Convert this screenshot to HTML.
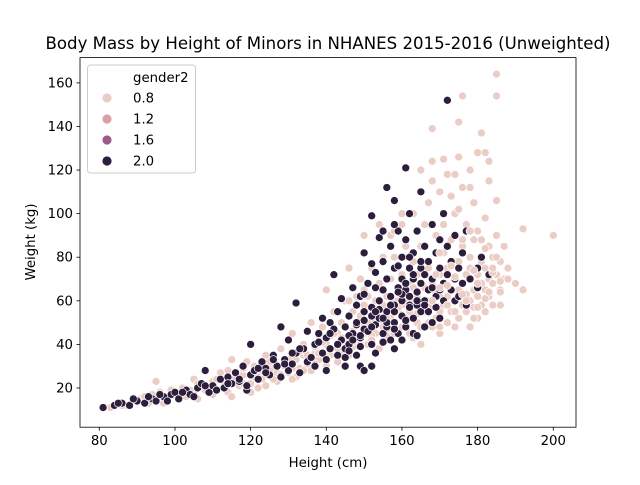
<!DOCTYPE html>
<html><head><meta charset="utf-8"><style>
body{margin:0;background:#fff;}
svg{font-family:"DejaVu Sans","Liberation Sans",sans-serif;}
</style></head><body>
<svg id="chart" width="640" height="480" viewBox="0 0 640 480">
<rect width="640" height="480" fill="#fff"/>
<text x="328" y="49" text-anchor="middle" font-size="16.6" fill="#000">Body Mass by Height of Minors in NHANES 2015-2016 (Unweighted)</text>
<g id="points"></g>
<g id="axes"></g>
<rect x="80" y="57.6" width="496" height="369.6" fill="none" stroke="#000" stroke-width="0.8"/>
<text x="328" y="467" text-anchor="middle" font-size="13.3">Height (cm)</text>
<text transform="translate(35,242) rotate(-90)" text-anchor="middle" font-size="13.3">Weight (kg)</text>
<g>
<rect x="87.5" y="65" width="108" height="108" rx="3" fill="#fff" fill-opacity="0.8" stroke="#ccc" stroke-width="1"/>
<text x="133" y="82" font-size="13.3">gender2</text>
<g id="legend-entries"></g>
</g>
</svg>
<script>
const xTicks=[80,100,120,140,160,180,200];
const yTicks=[20,40,60,80,100,120,140,160];
const legendLabels=["0.8","1.2","1.6","2.0"];
const legendColors=["#ebcdc6","#d9a0a8","#9b5b8c","#2d1e3e"];
const femaleH=[83,85,87,89,91,93,94,95,96,98,99,100,102,103,105,105,107,108,110,111,112,113,114,115,116,117,118,119,120,121,122,123,124,125,126,127,128,129,130,131,132,133,134,135,136,137,138,139,140,140,141,142,143,143,144,145,145,146,146,147,147,148,148,149,149,150,150,150,151,151,152,152,153,153,154,154,154,155,155,155,156,156,157,157,157,158,158,158,159,159,160,160,160,160,161,161,161,162,162,162,163,163,163,164,164,164,165,165,165,165,166,166,166,167,167,167,167,168,168,168,168,168,169,169,169,170,170,170,170,170,171,171,171,171,172,172,172,172,173,173,173,173,174,174,174,174,175,175,175,175,176,176,176,176,176,177,177,177,177,178,178,178,178,178,179,179,179,179,180,180,180,180,180,181,181,181,181,182,182,182,182,182,183,183,183,183,184,184,184,185,185,185,185,185,186,186,186,187,187,188,190,192,192,200,175,171,168,174,178,183,160,158,150,146,142,138,134,130,126,122,118,114,110,106,97,165,170,163,120,115,
 86,90,92,96,101,104,106,109,111,113,116,118,121,123,125,127,129,131,133,135,137,139,141,143,145,147,149,151,153,155,157,159,161,163,135,138,141,144,147,150,153,156,159,162,132,136,140,144,148,152,156,124,128,131,134,137,140,143,146,149,152,155,158,161,164,166];
const femaleW=[11,13,12,14,15,13,17,23,16,15,19,17,20,16,18,24,21,19,23,19,27,22,18,33,24,21,26,32,22,30,27,24,35,30,28,23,38,30,27,45,33,29,40,30,50,36,33,48,40,65,35,55,45,32,50,60,42,37,75,55,44,62,40,50,70,45,58,90,40,62,52,75,45,60,38,68,95,50,58,80,44,62,52,70,90,46,60,80,55,65,48,58,72,95,52,62,85,45,68,55,58,78,100,50,62,72,48,58,85,120,55,66,95,50,60,75,105,48,58,68,124,139,52,64,90,55,62,72,110,45,58,68,82,95,50,62,75,118,55,65,88,108,48,60,70,100,52,65,78,126,58,68,85,154,112,55,63,72,95,60,70,80,120,48,57,65,88,105,62,72,92,128,52,58,68,78,137,65,75,98,128,55,62,70,85,115,58,80,68,72,90,106,154,164,65,78,58,70,85,75,68,93,65,90,142,125,115,118,112,124,100,92,65,60,45,42,35,33,24,20,22,28,17,15,13,40,48,43,18,16,
 12,14,16,18,16,19,22,20,24,21,25,29,25,28,32,27,33,29,37,35,39,41,44,40,48,46,53,50,55,58,56,60,64,66,31,36,38,43,39,47,49,52,57,60,25,28,30,36,41,44,47,21,26,24,28,31,34,38,35,40,42,48,45,50,54,58];
const maleH=[81,84,86,88,90,92,94,95,97,99,100,101,103,104,106,107,108,109,110,112,113,114,115,116,117,118,119,120,120,121,122,123,124,125,126,127,128,128,129,130,130,131,132,132,133,134,135,135,136,137,137,138,139,139,140,140,141,141,142,142,143,143,144,144,145,145,146,146,147,147,148,148,148,149,149,149,150,150,150,151,151,152,152,152,153,153,153,154,154,154,155,155,155,156,156,156,156,157,157,157,158,158,158,158,159,159,159,160,160,160,160,161,161,161,161,162,162,162,162,163,163,163,163,164,164,164,165,165,165,165,166,166,166,166,167,167,167,168,168,168,168,169,169,169,170,170,170,170,171,171,171,172,172,172,172,173,173,174,174,174,175,175,176,176,177,177,178,180,180,181,183,160,158,164,150,152,145,140,
 85,89,93,96,98,102,105,108,111,114,117,119,122,124,126,129,131,133,136,138,141,143,146,148,150,152,154,156,158,160,162,164,166,168,145,147,149,151,153,155,157,159,161,163,143,146,149,152,155,158,161,150,153,156,159,162,165,152,155,158];
const maleW=[11,12,13,12,14,13,15,14,16,17,18,15,19,17,20,22,28,18,21,24,20,25,22,27,23,30,19,26,40,28,24,32,29,26,35,30,25,48,33,28,42,31,36,59,27,38,32,46,34,40,30,45,36,52,33,43,50,38,47,72,35,55,42,61,38,48,53,40,66,45,35,58,49,43,62,30,51,55,82,46,68,40,57,99,49,73,36,60,52,89,45,65,78,55,48,70,112,62,42,85,58,75,50,106,66,45,92,60,80,53,70,48,65,121,88,58,75,62,100,52,70,82,45,64,58,92,55,75,68,110,60,48,85,72,65,55,78,70,60,95,50,62,82,57,75,65,88,52,68,60,100,72,152,58,85,65,78,70,90,60,75,62,82,68,58,92,70,75,66,80,72,42,38,44,28,30,30,28,
 13,15,16,17,14,18,16,21,19,22,24,21,29,27,33,31,36,38,34,41,45,40,44,50,47,53,56,50,55,63,57,60,58,66,34,42,39,46,55,52,58,64,68,72,40,37,44,48,41,47,51,63,66,70,76,80,78,77,92,95];
const femaleTopH=[168,170,172,174,176,178,180,182,184,186,188,170,173,176,179,182,185,171,175,178,181,184,169,172,177,180,183,186,174,179];
const femaleTopW=[60,66,58,71,63,75,68,61,73,64,70,82,76,88,74,84,80,95,102,92,88,75,72,67,60,57,64,69,55,52];

const X0=80,X1=576,Y0=427.2,Y1=57.6,XD0=74.9,XD1=206,YD0=2.0,YD1=171.6;
function sx(v){return X0+(v-XD0)/(XD1-XD0)*(X1-X0);}
function sy(v){return Y0-(v-YD0)/(YD1-YD0)*(Y0-Y1);}
const NS="http://www.w3.org/2000/svg";
const pts=document.getElementById('points');
function drawSeries(H,W,color,name){
  for(let i=0;i<H.length;i++){
    const c=document.createElementNS(NS,'circle');
    c.setAttribute('cx',sx(H[i]));c.setAttribute('cy',sy(W[i]));c.setAttribute('r',4);
    c.setAttribute('fill',color);c.setAttribute('stroke','#fff');c.setAttribute('stroke-width',0.7);
    
    
    pts.appendChild(c);
  }
}
drawSeries(femaleH,femaleW,legendColors[0],'point-female');
drawSeries(maleH,maleW,legendColors[3],'point-male');
drawSeries(femaleTopH,femaleTopW,legendColors[0],'point-female');
const ax=document.getElementById('axes');
xTicks.forEach(t=>{
  const x=sx(t);
  const l=document.createElementNS(NS,'line');
  l.setAttribute('x1',x);l.setAttribute('x2',x);l.setAttribute('y1',427.2);l.setAttribute('y2',430.7);l.setAttribute('stroke','#000');l.setAttribute('stroke-width',0.8);
  
  
  ax.appendChild(l);
  const tx=document.createElementNS(NS,'text');
  tx.setAttribute('x',x);tx.setAttribute('y',445);tx.setAttribute('text-anchor','middle');tx.setAttribute('font-size','13.3');
  tx.textContent=t;
  
  
  ax.appendChild(tx);
});
yTicks.forEach(t=>{
  const y=sy(t);
  const l=document.createElementNS(NS,'line');
  l.setAttribute('x1',76.5);l.setAttribute('x2',80);l.setAttribute('y1',y);l.setAttribute('y2',y);l.setAttribute('stroke','#000');l.setAttribute('stroke-width',0.8);
  
  
  ax.appendChild(l);
  const tx=document.createElementNS(NS,'text');
  tx.setAttribute('x',73);tx.setAttribute('y',y+4.5);tx.setAttribute('text-anchor','end');tx.setAttribute('font-size','13.3');
  tx.textContent=t;
  
  
  ax.appendChild(tx);
});
const lg=document.getElementById('legend-entries');
legendLabels.forEach((lab,i)=>{
  const y=98+i*21;
  const c=document.createElementNS(NS,'circle');
  c.setAttribute('cx',107);c.setAttribute('cy',y);c.setAttribute('r',5);c.setAttribute('fill',legendColors[i]);c.setAttribute('stroke','#fff');c.setAttribute('stroke-width',0.8);
  
  
  lg.appendChild(c);
  const t=document.createElementNS(NS,'text');
  t.setAttribute('x',133);t.setAttribute('y',y+4.5);t.setAttribute('font-size','13.3');
  t.textContent=lab;
  
  
  lg.appendChild(t);
});
</script>
</body></html>
